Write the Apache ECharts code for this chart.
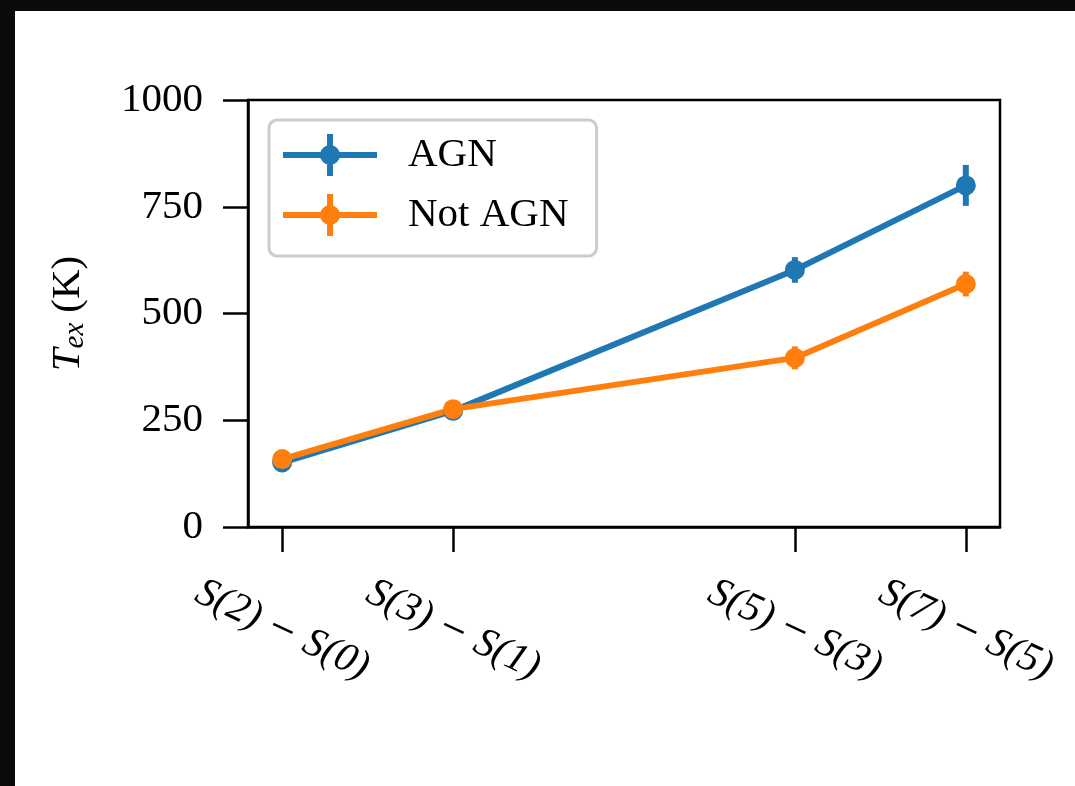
<!DOCTYPE html>
<html>
<head>
<meta charset="utf-8">
<title>Excitation temperature by line pair</title>
<script src="https://cdn.jsdelivr.net/npm/echarts@6/dist/echarts.min.js"></script>
<style>
  html, body { margin: 0; padding: 0; background: #ffffff; }
  #chart { width: 1075px; height: 786px; }
</style>
</head>
<body>
<div id="chart"></div>
<script>
// Line pairs (x positions follow the transition spacing) and tick labels
const xPos = [0, 1, 3, 4];
const tickLabels = [['S(2)', 'S(0)'], ['S(3)', 'S(1)'], ['S(5)', 'S(3)'], ['S(7)', 'S(5)']];

// Excitation temperatures (K) and their 1-sigma uncertainties
const agnValues = [151, 272, 602, 800];
const agnErrors = [14, 16, 30, 48];
const notAgnValues = [159, 276, 396, 569];
const notAgnErrors = [12, 15, 27, 29];

const yTicks = [0, 250, 500, 750, 1000];

const BLUE = '#1f77b4';
const ORANGE = '#ff7f0e';
const SERIF = 'Liberation Serif';

// Marker with a vertical error bar on a horizontal line, used as legend handle
const errIcon = 'path://M0,18H94V24H0Z M44,0H50V42H44Z M37,21A10,10 0 1,1 57,21A10,10 0 1,1 37,21Z';

function errorBarSeries(name, values, errors, color) {
  return {
    type: 'custom',
    name: name + ' err',
    data: xPos.map((x, i) => [x, values[i], errors[i]]),
    encode: { x: 0, y: 1 },
    silent: true,
    renderItem: function (params, api) {
      const x = api.value(0), y = api.value(1), e = api.value(2);
      const top = api.coord([x, y + e]);
      const bot = api.coord([x, y - e]);
      return {
        type: 'line',
        shape: { x1: top[0], y1: top[1], x2: bot[0], y2: bot[1] },
        style: { stroke: color, lineWidth: 6 }
      };
    }
  };
}

function lineSeries(name, values, color) {
  return {
    type: 'line',
    name: name,
    data: xPos.map((x, i) => [x, values[i]]),
    symbol: 'circle',
    symbolSize: 20,
    showSymbol: true,
    lineStyle: { color: color, width: 6 },
    itemStyle: { color: color },
    emphasis: { disabled: true }
  };
}

const chart = echarts.init(document.getElementById('chart'), null, { renderer: 'canvas' });

chart.setOption({
  animation: false,
  backgroundColor: '#ffffff',
  graphic: [
    { type: 'rect', shape: { x: 0, y: 0, width: 1075, height: 11 }, style: { fill: '#0a0a0a' }, z: 100 },
    { type: 'rect', shape: { x: 0, y: 0, width: 15, height: 786 }, style: { fill: '#0a0a0a' }, z: 100 }
  ],
  grid: {
    left: 248, top: 100, width: 752, height: 427,
    show: true, borderColor: '#000000', borderWidth: 2.5, backgroundColor: 'transparent'
  },
  legend: {
    orient: 'vertical',
    left: 269, top: 120,
    padding: [14, 28, 20, 14],
    itemWidth: 94, itemHeight: 42, itemGap: 18,
    backgroundColor: '#ffffff',
    borderColor: '#cccccc', borderWidth: 3, borderRadius: 8,
    selectedMode: false,
    textStyle: { fontFamily: SERIF, fontSize: 41, color: '#000000', padding: [0, 0, 0, 26] },
    data: [
      { name: 'AGN', icon: errIcon },
      { name: 'Not AGN', icon: errIcon }
    ]
  },
  xAxis: {
    type: 'value',
    min: -0.2, max: 4.2,
    splitLine: { show: false },
    axisLine: { show: true, onZero: false, lineStyle: { color: '#000000', width: 2.5 } },
    axisTick: { show: true, inside: false, length: 25, customValues: xPos, lineStyle: { color: '#000000', width: 2.5 } },
    axisLabel: {
      customValues: xPos,
      formatter: v => {
        const pair = tickLabels[xPos.indexOf(v)];
        return '{i|' + pair[0] + '}{m| \u2212 }{i|' + pair[1] + '}';
      },
      rotate: -25,
      align: 'center', verticalAlign: 'middle',
      margin: 103,
      fontFamily: SERIF, fontStyle: 'italic', fontSize: 41, color: '#000000',
      rich: {
        i: { fontFamily: SERIF, fontStyle: 'italic', fontSize: 41, color: '#000000' },
        m: { fontFamily: 'DejaVu Serif', fontStyle: 'normal', fontSize: 34, color: '#000000' }
      }
    }
  },
  yAxis: {
    type: 'value',
    min: yTicks[0], max: yTicks[yTicks.length - 1], interval: 250,
    splitLine: { show: false },
    axisLine: { show: true, onZero: false, lineStyle: { color: '#000000', width: 2.5 } },
    axisTick: { show: true, inside: false, length: 25, lineStyle: { color: '#000000', width: 2.5 } },
    axisLabel: {
      margin: 45, fontFamily: SERIF, fontSize: 41, color: '#000000',
      formatter: v => String(v)
    },
    name: '{t|T}{s|ex} {k|(K)}',
    nameLocation: 'middle',
    nameGap: 158,
    nameRotate: 90,
    nameTextStyle: {
      fontFamily: SERIF, fontSize: 40, color: '#000000',
      rich: {
        t: { fontFamily: SERIF, fontSize: 41, fontStyle: 'italic', color: '#000000' },
        s: { fontFamily: SERIF, fontSize: 29, fontStyle: 'italic', color: '#000000', padding: [14, 0, 0, 0] },
        k: { fontFamily: SERIF, fontSize: 41, color: '#000000' }
      }
    }
  },
  series: [
    errorBarSeries('AGN', agnValues, agnErrors, BLUE),
    lineSeries('AGN', agnValues, BLUE),
    errorBarSeries('Not AGN', notAgnValues, notAgnErrors, ORANGE),
    lineSeries('Not AGN', notAgnValues, ORANGE)
  ]
});
</script>
</body>
</html>
